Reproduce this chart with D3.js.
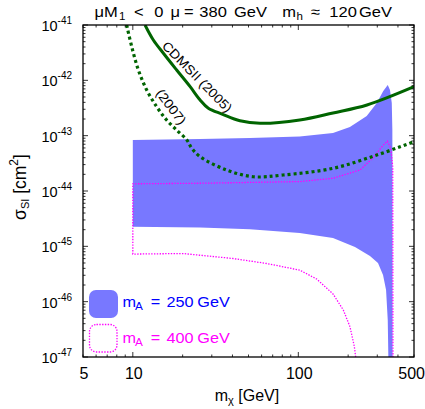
<!DOCTYPE html>
<html>
<head>
<meta charset="utf-8">
<script src="https://cdn.jsdelivr.net/npm/d3@7"></script>
<style>
  body { margin: 0; background: #fff; }
  text { font-family: "Liberation Sans", Arial, sans-serif; }
</style>
</head>
<body>
<svg width="425" height="409"></svg>
<script>
// values, sigma given as log10(cm^2)
const cdms05Mass = [11.85, 13.3, 15.3, 18.4, 22.2, 25.5, 28.6, 34.6, 44.4, 58.7, 102, 162, 260, 500];
const cdms05Exp = [-41, -41.271, -41.511, -41.813, -42.115, -42.355, -42.505, -42.609, -42.73, -42.777, -42.717, -42.59, -42.446, -42.115];

const cdms07Mass = [9.18, 9.85, 10.8, 12.13, 13.94, 16.0, 18.4, 21.2, 22.7, 25.5, 36.9, 53.4, 80.8, 162, 298, 500];
const cdms07Exp = [-41, -41.392, -41.813, -42.175, -42.477, -42.717, -42.898, -43.078, -43.228, -43.38, -43.621, -43.742, -43.711, -43.59, -43.35, -43.109];

// mA = 250 GeV band: upper edge then lower edge back
const band250Mass = [10, 25.5, 51, 102, 162, 205, 259, 298, 326, 347, 358, 367, 370, 371,
                     350, 347, 339, 325, 303, 271, 220, 162, 102, 51, 25.5, 10];
const band250Exp = [-43.078, -43.06, -43.042, -43.015, -42.952, -42.843, -42.645, -42.41, -42.193, -42.084, -42.175, -42.41, -42.898, -47,
                    -47, -46.33, -45.79, -45.52, -45.30, -45.175, -45.01, -44.85, -44.76, -44.69, -44.66, -44.645];

// mA = 400 GeV outline
const band400Mass = [222, 218, 205, 187, 162, 129, 102, 64.4, 40.3, 20.1, 10, 10, 25.5, 102, 162, 236, 283, 326, 345, 362, 372, 373];
const band400Exp = [-47, -46.81, -46.45, -46.15, -45.86, -45.59, -45.43, -45.31, -45.22, -45.13, -45.14, -43.87, -43.86, -43.83, -43.77, -43.62, -43.40, -43.17, -43.10, -43.23, -43.56, -47];

const xTicks = [5, 10, 100, 500];
const yTickExps = [-47, -46, -45, -44, -43, -42, -41];

const svg = d3.select("svg");
const pLeft = 83, pRight = 414, pTop = 25, pBottom = 357;

const x = d3.scaleLog().domain([5, 500]).range([pLeft, pRight]);
const y = d3.scaleLinear().domain([-47, -41]).range([pBottom, pTop]);

svg.append("clipPath").attr("id", "plot")
  .append("rect").attr("x", pLeft).attr("y", pTop).attr("width", pRight - pLeft).attr("height", pBottom - pTop);

const g = svg.append("g").attr("clip-path", "url(#plot)");

const line = d3.line().x(d => x(d[0])).y(d => y(d[1]));
const zipped = (a, b) => a.map((v, i) => [v, b[i]]);

g.append("path")
  .attr("d", line(zipped(band250Mass, band250Exp)) + "Z")
  .attr("fill", "#7878ff").attr("stroke", "none");

g.append("path")
  .attr("d", line(zipped(band400Mass, band400Exp)))
  .attr("fill", "none").attr("stroke", "#ff00ff")
  .attr("stroke-width", 1.3).attr("stroke-dasharray", "1.4,1.4");

const smooth = d3.line().curve(d3.curveCatmullRom.alpha(0.5)).x(d => x(d[0])).y(d => y(d[1]));

g.append("path")
  .attr("d", smooth(zipped(cdms05Mass, cdms05Exp)))
  .attr("fill", "none").attr("stroke", "#006400").attr("stroke-width", 3);

g.append("path")
  .attr("d", smooth(zipped(cdms07Mass, cdms07Exp)))
  .attr("fill", "none").attr("stroke", "#006400").attr("stroke-width", 3.2)
  .attr("stroke-dasharray", "3,3");

// one piece of wide text; the original lettering is wider than Arial
const tok = (tx, ty, str, size, sx, fill, anchor) => svg.append("text")
  .attr("transform", "translate(" + tx + "," + ty + ") scale(" + sx + ",1)")
  .attr("font-size", size).attr("fill", fill || "#000")
  .attr("text-anchor", anchor || "start").text(str);

// curve labels
svg.append("text").attr("transform", "translate(194,80) rotate(45.5) scale(1.08,1)")
  .attr("text-anchor", "middle").attr("font-size", 13).text("CDMSII (2005)");
svg.append("text").attr("transform", "translate(167.5,109.5) rotate(53) scale(1.09,1)")
  .attr("text-anchor", "middle").attr("font-size", 13).text("(2007)");

// ticks
const minorX = [];
[1, 10, 100].forEach(d => d3.range(1, 10).forEach(k => { const v = d * k; if (v >= 5 && v <= 500) minorX.push(v); }));
const tickG = svg.append("g").attr("stroke", "#000").attr("stroke-width", 0.8);
minorX.forEach(v => {
  const len = (v === 10 || v === 100) ? 5 : 2.5;
  tickG.append("line").attr("x1", x(v)).attr("x2", x(v)).attr("y1", pBottom).attr("y2", pBottom - len);
  tickG.append("line").attr("x1", x(v)).attr("x2", x(v)).attr("y1", pTop).attr("y2", pTop + len);
});
yTickExps.forEach(e => {
  [pLeft, pRight].forEach(xx => {
    const dir = xx === pLeft ? 1 : -1;
    tickG.append("line").attr("x1", xx).attr("x2", xx + dir * 5).attr("y1", y(e)).attr("y2", y(e));
    if (e < -41) d3.range(2, 10).forEach(k => {
      const yy = y(e + Math.log10(k));
      tickG.append("line").attr("x1", xx).attr("x2", xx + dir * 2.5).attr("y1", yy).attr("y2", yy);
    });
  });
});

svg.append("rect").attr("x", pLeft).attr("y", pTop).attr("width", pRight - pLeft).attr("height", pBottom - pTop)
  .attr("fill", "none").attr("stroke", "#000").attr("stroke-width", 1.3);

// tick labels
xTicks.forEach(v => {
  const last = v === 500;
  svg.append("text").attr("x", last ? 425 : x(v) + 1).attr("y", 378.5)
    .attr("text-anchor", last ? "end" : "middle")
    .attr("font-size", 16).text(v);
});
yTickExps.forEach(e => {
  const t = svg.append("text").attr("x", 72).attr("y", y(e) + 6).attr("text-anchor", "end").attr("font-size", 14.5);
  t.append("tspan").text("10");
  t.append("tspan").attr("dy", -7).attr("font-size", 10).text(e);
});

// axis titles
const xl = svg.append("text").attr("x", 247).attr("y", 401).attr("text-anchor", "middle").attr("font-size", 16);
xl.append("tspan").text("m");
xl.append("tspan").attr("dy", 3).attr("font-size", 11).text("χ");
xl.append("tspan").attr("dy", -3).text(" [GeV]");

const yl = svg.append("text").attr("transform", "translate(26,187) rotate(-90)")
  .attr("text-anchor", "middle").attr("font-size", 17.5);
yl.append("tspan").text("σ");
yl.append("tspan").attr("dy", 3).attr("font-size", 11).text("SI");
yl.append("tspan").attr("dy", -3).text(" [cm");
yl.append("tspan").attr("dy", -8).attr("font-size", 12).text("2");
yl.append("tspan").attr("dy", 8).text("]");

// title, piece by piece
const ty = 17, ts = 15, tsx = 1.1;
tok(94.5, ty, "μM", ts, tsx);
tok(119, ty + 3, "1", 10.5, tsx);
tok(134, ty, "<", ts, tsx);
tok(154.2, ty, "0", ts, tsx);
tok(170.5, ty, "μ", ts, tsx);
tok(184, ty, "=", ts, tsx);
tok(199.3, ty, "380", ts, tsx);
tok(234, ty, "GeV", ts, tsx);
tok(282.3, ty, "m", ts, tsx);
tok(296.5, ty + 3, "h", 10.5, tsx);
tok(310.7, ty, "≈", ts, tsx);
tok(329.3, ty, "120", ts, tsx);
tok(359, ty, "GeV", ts, tsx);

// legend
svg.append("rect").attr("x", 89).attr("y", 290).attr("width", 29).attr("height", 28).attr("rx", 7)
  .attr("fill", "#7878ff");
svg.append("rect").attr("x", 89.5).attr("y", 324.5).attr("width", 27.5).attr("height", 27.5).attr("rx", 7)
  .attr("fill", "none").attr("stroke", "#ff00ff").attr("stroke-width", 1.3).attr("stroke-dasharray", "1.4,1.4");
[["250", "#0000ff", 307], ["400", "#ff00ff", 343]].forEach(([m, c, yy]) => {
  const ls = 14.5, lsx = 1.12;
  tok(122.5, yy, "m", ls, lsx, c);
  tok(135, yy + 3, "A", 10.5, lsx, c);
  tok(150.8, yy, "=", ls, lsx, c);
  tok(166.5, yy, m, ls, lsx, c);
  tok(197.3, yy, "GeV", ls, lsx, c);
});
</script>
</body>
</html>
